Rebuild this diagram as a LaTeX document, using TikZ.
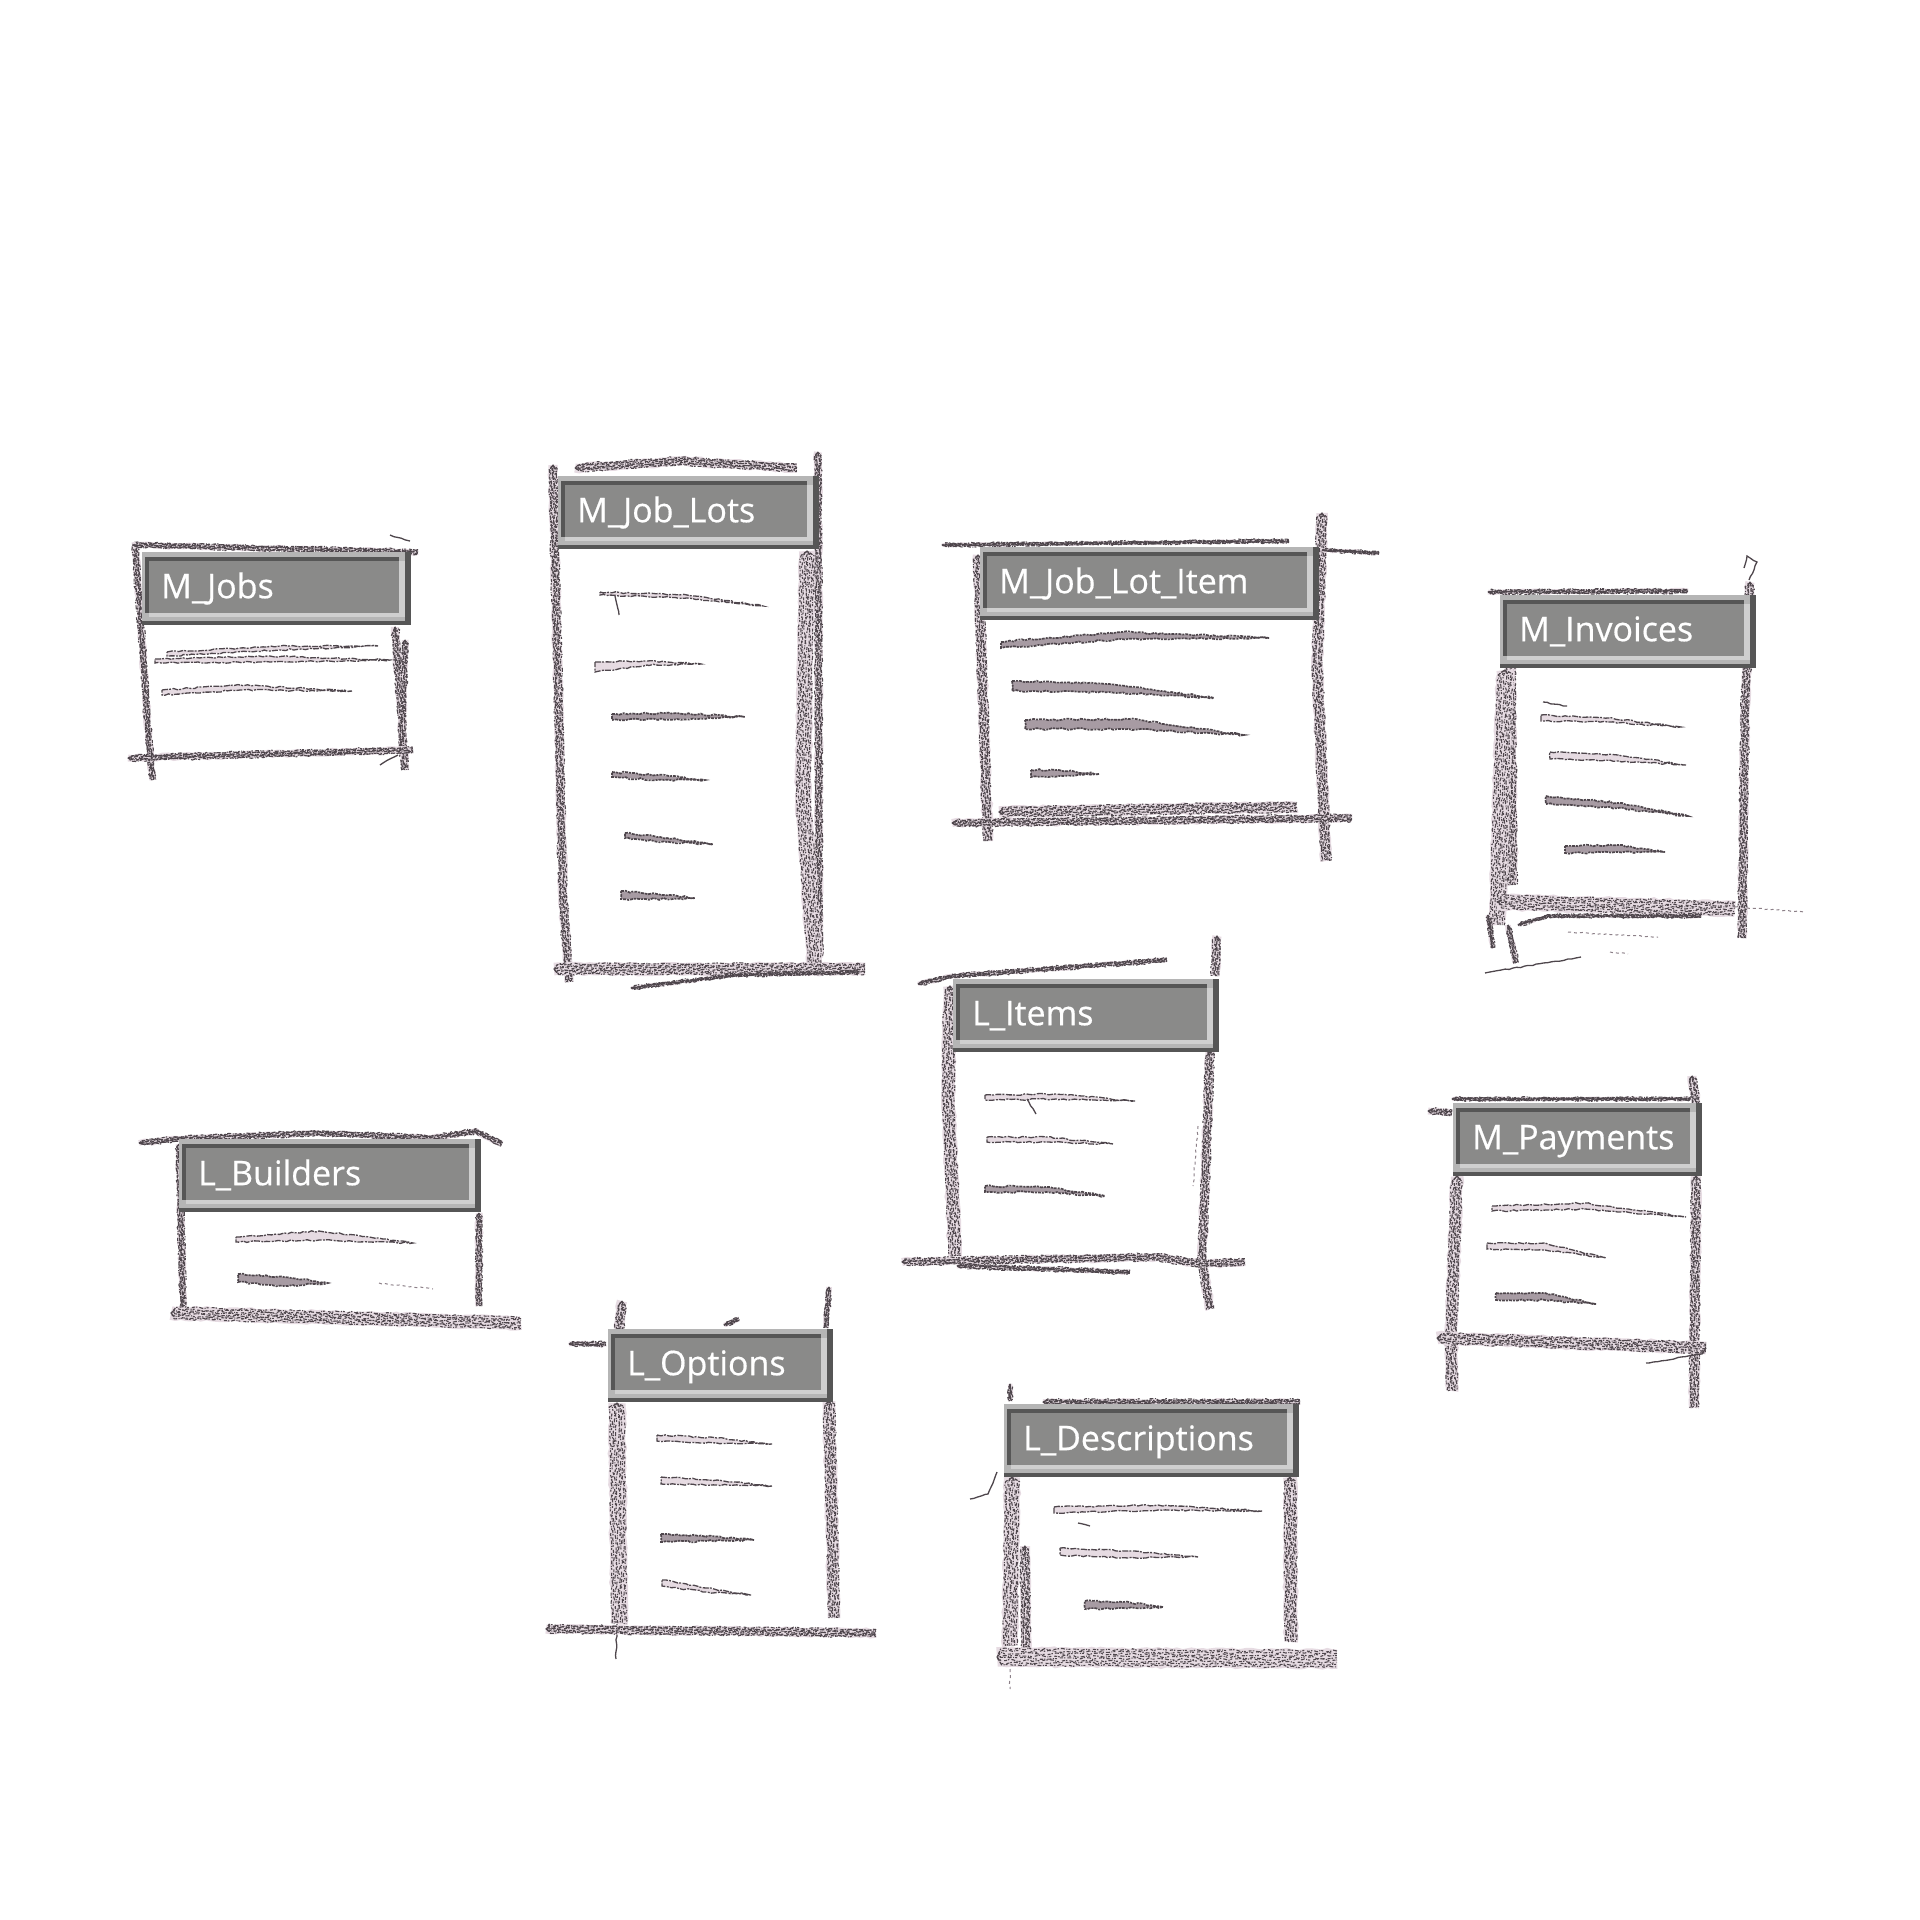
\documentclass[tikz,border=0pt]{standalone}
\usepackage{fontspec}
\setmainfont{Open Sans}
\usetikzlibrary{decorations.pathmorphing}
\definecolor{barfill}{HTML}{8A8A89}
\definecolor{bardark}{HTML}{565656}
\definecolor{barlight}{HTML}{B5B5B5}
\definecolor{barpale}{HTML}{CFCFCF}
\definecolor{pencilpale}{HTML}{E6DBE2}
\definecolor{pencilmid}{HTML}{8C8088}
\definecolor{pencildark}{HTML}{4E464C}

\begin{document}
\begin{tikzpicture}[
        x=1pt, y=-1pt,
        strand/.style 2 args={
            postaction={draw=pencildark, line width=1.1pt, dash pattern=on 3pt off 1pt on 1.5pt off 2pt on 4pt off 1.5pt on 1pt off 1pt on 2pt off 3pt, dash phase=#1*37pt+19pt, decorate, decoration={random steps, segment length=4pt, amplitude=1.1pt, raise=#1*#2pt}}
        },
        pencil/.style={
            postaction={draw=pencilpale, line width=1.15*#1pt, decorate, decoration={random steps, segment length=5pt, amplitude=1pt}},
            strand={-0.46}{#1}, strand={-0.33}{#1}, strand={-0.2}{#1}, strand={-0.06}{#1}, strand={0.07}{#1}, strand={0.21}{#1}, strand={0.34}{#1}, strand={0.47}{#1}
        },
        faint/.style={draw=pencilmid, line width=1pt, dash pattern=on 3pt off 3pt, decorate, decoration={random steps, segment length=3pt, amplitude=.6pt}},
        thinline/.style={draw=pencildark, line width=1.3pt, decorate, decoration={random steps, segment length=4pt, amplitude=.6pt}},
        itemline/.style={
            postaction={fill=pencilpale},
            postaction={draw=pencildark, line width=1.3pt, dash pattern=on 6pt off 1pt on 2pt off 1.5pt, decorate, decoration={random steps, segment length=4pt, amplitude=.8pt}}
        },
        itemheavy/.style={
            postaction={fill=pencilmid!70!pencilpale},
            postaction={draw=pencildark, line width=1.7pt, dash pattern=on 3pt off 1pt on 2pt off 1pt, decorate, decoration={random steps, segment length=4pt, amplitude=1pt}}
        },
        titlebar/.style={
            rectangle, anchor=north west, fill=bardark, text=white,
            text width=#1-38pt, inner xsep=19pt, inner ysep=16pt, text height=30pt, text depth=11pt,
            font=\fontsize{34}{40}\selectfont\addfontfeature{FakeBold=0.5},
            path picture={
                \fill[barlight] (path picture bounding box.north west) rectangle ([xshift=-6pt, yshift=4pt]path picture bounding box.south east);
                \fill[bardark] ([xshift=3pt, yshift=-5pt]path picture bounding box.north west) rectangle ([xshift=-12pt, yshift=12pt]path picture bounding box.south east);
                \fill[barpale] ([xshift=7pt, yshift=-9pt]path picture bounding box.north west) rectangle ([xshift=-6pt, yshift=8pt]path picture bounding box.south east);
                \fill[barfill] ([xshift=7pt, yshift=-9pt]path picture bounding box.north west) rectangle ([xshift=-12pt, yshift=12pt]path picture bounding box.south east);
            }
        }
    ]
    \pgfmathsetseed{7}
    \useasboundingbox (0,0) rectangle (1920,1920);

    % M_Jobs
    \path[pencil=6] (135,542) -- (150,757) -- (153,780);
    \path[pencil=5] (133,545) -- (418,552);
    \path[pencil=7] (395,627) -- (405,770);
    \path[pencil=6] (405,640) -- (402,747);
    \path[pencil=6] (128,758) -- (413,750);
    \path[thinline] (380,765) -- (398,755);
    \path[thinline] (390,535) -- (410,541);
    \path[itemline] (167,652) -- (280,646) -- (378,646) -- (280,650) -- (167,656) -- cycle;
    \path[itemline] (155,659) -- (270,656) -- (390,660) -- (270,662) -- (155,663) -- cycle;
    \path[itemline] (162,690) -- (240,685) -- (352,691) -- (240,690) -- (162,695) -- cycle;

    % M_Job_Lots
    \begin{scope}[shift={(-3,-3)}]
    \path[pencil=8] (556,468) -- (558,560) -- (566,900) -- (572,985);
    \path[pencil=8] (578,471) -- (683,464) -- (800,471);
    \path[pencil=7] (821,455) -- (822,960);
    \path[pencil=14] (810,554) -- (806,800) -- (818,972);
    \path[pencil=11] (557,972) -- (868,972);
    \path[pencil=3] (634,991) -- (738,978) -- (862,975);
    \path[itemline] (603,595) -- (690,598) -- (766,609) -- (690,601) -- (603,598) -- cycle;
    \path[thinline] (618,599) -- (622,618);
    \path[itemline] (598,665) -- (650,664) -- (704,667) -- (650,668) -- (598,675) -- cycle;
    \path[itemheavy] (615,717) -- (680,716) -- (748,720) -- (680,722) -- (615,723) -- cycle;
    \path[itemheavy] (615,775) -- (660,778) -- (708,783) -- (660,783) -- (615,780) -- cycle;
    \path[itemheavy] (628,836) -- (670,841) -- (716,847) -- (670,845) -- (628,841) -- cycle;
    \path[itemheavy] (624,894) -- (660,897) -- (698,901) -- (660,902) -- (624,902) -- cycle;
    \end{scope}

    % M_Job_Lot_Item
    \begin{scope}[shift={(-1,-2)}]
    \path[pencil=3] (943,547) -- (1290,543);
    \path[pencil=9] (979,557) -- (989,843);
    \path[pencil=10] (1323,515) -- (1318,667) -- (1327,863);
    \path[pencil=3] (1323,552) -- (1380,555);
    \path[pencil=7] (953,825) -- (1353,820);
    \path[pencil=10] (1000,814) -- (1298,809);
    \path[itemheavy] (1002,644) -- (1123,634) -- (1270,640) -- (1123,641) -- (1002,650) -- cycle;
    \path[itemheavy] (1013,683) -- (1110,686) -- (1215,700) -- (1110,694) -- (1013,693) -- cycle;
    \path[itemheavy] (1026,722) -- (1130,721) -- (1245,737) -- (1130,731) -- (1026,731) -- cycle;
    \path[itemheavy] (1032,772) -- (1060,772) -- (1100,776) -- (1060,778) -- (1032,779) -- cycle;
    \end{scope}

    % M_Invoices
    \begin{scope}[shift={(-2,-5)}]
    \path[pencil=4] (1490,597) -- (1690,596);
    \path[pencil=10] (1512,667) -- (1514,890);
    \path[pencil=15] (1507,675) -- (1499,930);
    \path[pencil=8] (1752,587) -- (1747,717) -- (1744,943);
    \path[thinline] (1751,585) -- (1759,567) -- (1749,561) -- (1746,573);
    \path[pencil=14] (1500,907) -- (1737,914);
    \path[faint] (1737,912) -- (1807,917);
    \path[pencil=3] (1520,930) -- (1550,921) -- (1703,921);
    \path[pencil=5] (1510,930) -- (1518,968);
    \path[pencil=4] (1490,920) -- (1495,953);
    \path[thinline] (1487,978) -- (1583,962);
    \path[faint] (1570,937) -- (1660,942);
    \path[faint] (1612,957) -- (1630,959);
    \path[thinline] (1545,707) -- (1569,711);
    \path[itemline] (1543,720) -- (1610,723) -- (1683,732) -- (1610,727) -- (1543,726) -- cycle;
    \path[itemline] (1552,757) -- (1620,760) -- (1688,770) -- (1620,766) -- (1552,764) -- cycle;
    \path[itemheavy] (1548,801) -- (1620,808) -- (1690,821) -- (1620,813) -- (1548,809) -- cycle;
    \path[itemheavy] (1567,851) -- (1620,850) -- (1667,857) -- (1620,857) -- (1567,858) -- cycle;
    \end{scope}

    % L_Items
    \begin{scope}[shift={(-4,-6)}]
    \path[pencil=4] (922,990) -- (957,982) -- (1171,966);
    \path[pencil=12] (954,992) -- (952,1102) -- (959,1262);
    \path[pencil=8] (1221,942) -- (1219,982);
    \path[pencil=8] (1214,1057) -- (1206,1268) -- (1214,1315);
    \path[faint] (1202,1132) -- (1197,1192);
    \path[pencil=7] (906,1268) -- (1161,1263) -- (1204,1270) -- (1249,1268);
    \path[pencil=4] (961,1272) -- (1134,1278);
    \path[itemline] (989,1101) -- (1060,1100) -- (1139,1107) -- (1060,1105) -- (989,1106) -- cycle;
    \path[thinline] (1031,1105) -- (1040,1120);
    \path[itemline] (991,1143) -- (1050,1143) -- (1117,1150) -- (1050,1148) -- (991,1148) -- cycle;
    \path[itemheavy] (989,1192) -- (1050,1193) -- (1109,1202) -- (1050,1198) -- (989,1198) -- cycle;
    \end{scope}

    % M_Payments
    \begin{scope}[shift={(-5,-5)}]
    \path[pencil=3] (1457,1104) -- (1704,1104);
    \path[pencil=6] (1433,1116) -- (1457,1118);
    \path[pencil=11] (1462,1181) -- (1456,1343) -- (1457,1396);
    \path[pencil=8] (1697,1081) -- (1701,1109);
    \path[pencil=9] (1701,1181) -- (1699,1413);
    \path[pencil=11] (1442,1343) -- (1711,1353);
    \path[thinline] (1651,1368) -- (1707,1359) -- (1711,1353);
    \path[itemline] (1497,1211) -- (1590,1208) -- (1691,1222) -- (1590,1214) -- (1497,1216) -- cycle;
    \path[itemline] (1492,1248) -- (1550,1248) -- (1611,1263) -- (1550,1255) -- (1492,1254) -- cycle;
    \path[itemheavy] (1501,1298) -- (1550,1298) -- (1601,1309) -- (1550,1305) -- (1501,1305) -- cycle;
    \end{scope}

    % L_Builders
    \begin{scope}[shift={(-1,-3)}]
    \path[pencil=5] (140,1146) -- (180,1142) -- (317,1136) -- (433,1141) -- (477,1134) -- (503,1147);
    \path[pencil=6] (180,1147) -- (184,1311);
    \path[pencil=6] (480,1216) -- (480,1309);
    \path[pencil=12] (172,1316) -- (522,1326);
    \path[itemline] (237,1240) -- (320,1234) -- (414,1246) -- (320,1243) -- (237,1245) -- cycle;
    \path[itemheavy] (239,1277) -- (285,1280) -- (329,1286) -- (285,1289) -- (239,1285) -- cycle;
    \path[faint] (380,1286) -- (434,1292);
    \end{scope}

    % L_Options
    \begin{scope}[shift={(-3,-6)}]
    \path[pencil=9] (625,1307) -- (622,1335);
    \path[pencil=15] (620,1409) -- (622,1630);
    \path[thinline] (620,1630) -- (619,1665);
    \path[pencil=5] (832,1293) -- (829,1334);
    \path[pencil=11] (832,1407) -- (837,1624);
    \path[pencil=4] (572,1350) -- (609,1350);
    \path[pencil=4] (727,1331) -- (742,1325);
    \path[pencil=8] (549,1635) -- (879,1639);
    \path[itemline] (660,1441) -- (720,1444) -- (775,1450) -- (720,1449) -- (660,1447) -- cycle;
    \path[itemline] (664,1483) -- (720,1486) -- (775,1492) -- (720,1491) -- (664,1490) -- cycle;
    \path[itemheavy] (664,1540) -- (710,1542) -- (757,1546) -- (710,1547) -- (664,1548) -- cycle;
    \path[itemline] (665,1586) -- (710,1594) -- (754,1601) -- (710,1598) -- (665,1592) -- cycle;
    \end{scope}

    % L_Descriptions
    \begin{scope}[shift={(-2,-8)}]
    \path[pencil=4] (1012,1392) -- (1012,1409);
    \path[pencil=5] (1045,1410) -- (1302,1410);
    \path[thinline] (972,1507) -- (990,1502) -- (999,1480);
    \path[pencil=14] (1014,1485) -- (1012,1654);
    \path[pencil=9] (1027,1554) -- (1028,1657);
    \path[pencil=12] (1292,1485) -- (1293,1650);
    \path[faint] (1012,1677) -- (1012,1697);
    \path[pencil=17] (999,1665) -- (1339,1667);
    \path[itemline] (1056,1515) -- (1160,1513) -- (1264,1519) -- (1160,1518) -- (1056,1521) -- cycle;
    \path[thinline] (1080,1531) -- (1092,1534);
    \path[itemline] (1062,1556) -- (1130,1559) -- (1200,1565) -- (1130,1566) -- (1062,1563) -- cycle;
    \path[itemheavy] (1087,1609) -- (1125,1610) -- (1165,1615) -- (1125,1616) -- (1087,1617) -- cycle;
    \end{scope}

    % Title bars
    \node[titlebar=269pt] (jobs) at (142,552) {M\_Jobs};
    \node[titlebar=261pt] (joblots) at (558,476) {M\_Job\_Lots};
    \node[titlebar=339pt] (joblotitem) at (980,547) {M\_Job\_Lot\_Item};
    \node[titlebar=256pt] (invoices) at (1500,595) {M\_Invoices};
    \node[titlebar=266pt] (items) at (953,979) {L\_Items};
    \node[titlebar=249pt] (payments) at (1453,1103) {M\_Payments};
    \node[titlebar=302pt] (builders) at (179,1139) {L\_Builders};
    \node[titlebar=225pt] (options) at (608,1329) {L\_Options};
    \node[titlebar=295pt] (descriptions) at (1004,1404) {L\_Descriptions};
\end{tikzpicture}
\end{document}
